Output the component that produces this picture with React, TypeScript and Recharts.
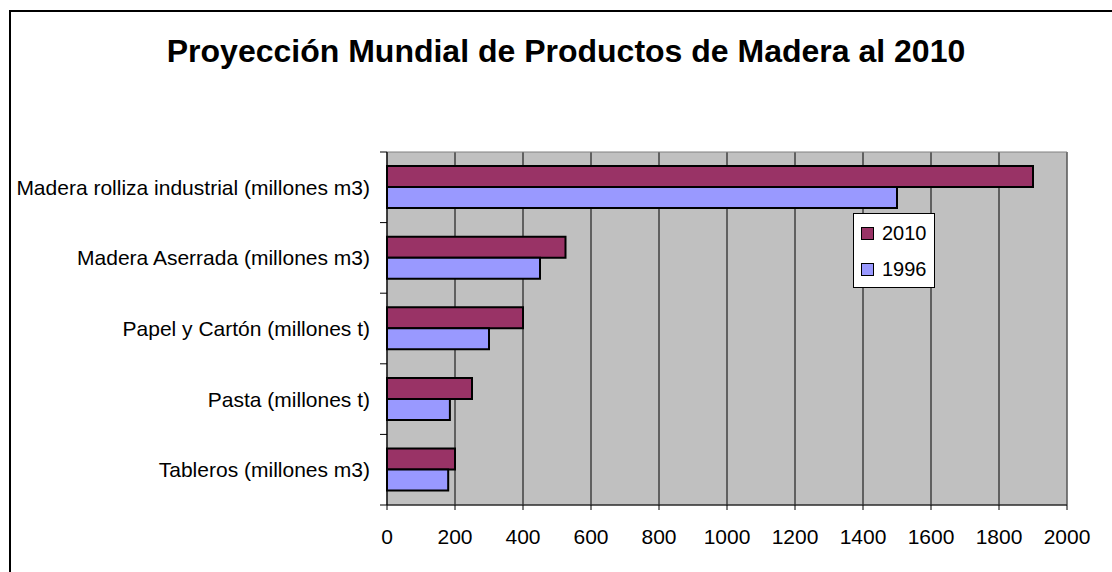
import React from 'react'
import { BarChart, Bar, XAxis, YAxis, CartesianGrid, ReferenceArea } from 'recharts'

const categories = [
  'Madera rolliza industrial (millones m3)',
  'Madera Aserrada (millones m3)',
  'Papel y Cartón (millones t)',
  'Pasta (millones t)',
  'Tableros (millones m3)',
]
const values2010 = [1900, 525, 400, 250, 200]
const values1996 = [1500, 450, 300, 185, 180]
const xTicks = [0, 200, 400, 600, 800, 1000, 1200, 1400, 1600, 1800, 2000]
const legendItems = ['2010', '1996']

const COLORS = {
  y2010: '#993366',
  y1996: '#9999FF',
  plot: '#C0C0C0',
}

const FONT = 'Arial, "Liberation Sans", sans-serif'

// category label plus Excel-style tick marks on the band boundaries
const CategoryTick = (props: any) => {
  const { x, y, payload, index, visibleTicksCount } = props
  const half = payload?.offset ?? 0
  const isLast = index === (visibleTicksCount ?? categories.length) - 1
  return (
    <g>
      <line x1={x - 7} x2={x} y1={y - half} y2={y - half} stroke="#000" />
      {isLast && <line x1={x - 7} x2={x} y1={y + half} y2={y + half} stroke="#000" />}
      <text
        x={x - 17}
        y={y}
        textAnchor="end"
        dominantBaseline="central"
        fill="#000"
        style={{ fontSize: 21, fontFamily: FONT }}
      >
        {payload.value}
      </text>
    </g>
  )
}

const ChartLegend = () => {
  const colors = [COLORS.y2010, COLORS.y1996]
  return (
    <div
      style={{
        position: 'absolute',
        left: 853,
        top: 213,
        width: 82,
        height: 75,
        background: '#fff',
        border: '1px solid #000',
        boxSizing: 'border-box',
        paddingTop: 5,
        paddingLeft: 7,
        fontFamily: FONT,
        fontSize: 20,
        color: '#000',
      }}
    >
      {legendItems.map((name, i) => (
        <div key={name} style={{ display: 'flex', alignItems: 'center', height: 28, marginBottom: 8 }}>
          <div
            style={{
              width: 11,
              height: 11,
              background: colors[i],
              border: '1px solid #000',
              marginRight: 8,
            }}
          />
          <span>{name}</span>
        </div>
      ))}
    </div>
  )
}

export default function App() {
  const data = categories.map((name, i) => ({
    name,
    y2010: values2010[i],
    y1996: values1996[i],
  }))

  return (
    <div
      style={{
        position: 'fixed',
        left: 0,
        top: 0,
        width: 1112,
        height: 572,
        overflow: 'hidden',
        background: '#fff',
      }}
    >
      <div
        style={{
          position: 'absolute',
          left: 9,
          top: 10,
          width: 1120,
          height: 580,
          border: '2px solid #000',
          boxSizing: 'border-box',
        }}
      />
      <div
        style={{
          position: 'absolute',
          left: 0,
          top: 33,
          width: 1132,
          textAlign: 'center',
          fontFamily: FONT,
          fontWeight: 700,
          fontSize: 32,
          color: '#000',
        }}
      >
        Proyección Mundial de Productos de Madera al 2010
      </div>
      <div style={{ position: 'absolute', left: 0, top: 0 }}>
        <BarChart
          width={1112}
          height={572}
          data={data}
          layout="vertical"
          margin={{ top: 152, right: 45, bottom: 37, left: 0 }}
          barCategoryGap="20%"
          barGap={0}
        >
          <CartesianGrid horizontal={false} stroke="#000" fill={COLORS.plot} fillOpacity={1} />
          <ReferenceArea x1={0} x2={2000} fill="none" stroke="#808080" strokeWidth={1} />
          <XAxis
            type="number"
            domain={[0, 2000]}
            ticks={xTicks}
            interval={0}
            height={30}
            stroke="#000"
            tickSize={5}
            tickMargin={19}
            tick={{ fill: '#000', fontSize: 21, fontFamily: FONT }}
          />
          <YAxis
            type="category"
            dataKey="name"
            width={387}
            stroke="#000"
            axisLine={{ stroke: '#000' }}
            tickLine={false}
            tickSize={0}
            tickMargin={0}
            interval={0}
            tick={<CategoryTick />}
          />
          <Bar
            dataKey="y2010"
            name="2010"
            fill={COLORS.y2010}
            stroke="#000"
            strokeWidth={2}
            isAnimationActive={false}
          />
          <Bar
            dataKey="y1996"
            name="1996"
            fill={COLORS.y1996}
            stroke="#000"
            strokeWidth={2}
            isAnimationActive={false}
          />
        </BarChart>
      </div>
      <ChartLegend />
    </div>
  )
}
